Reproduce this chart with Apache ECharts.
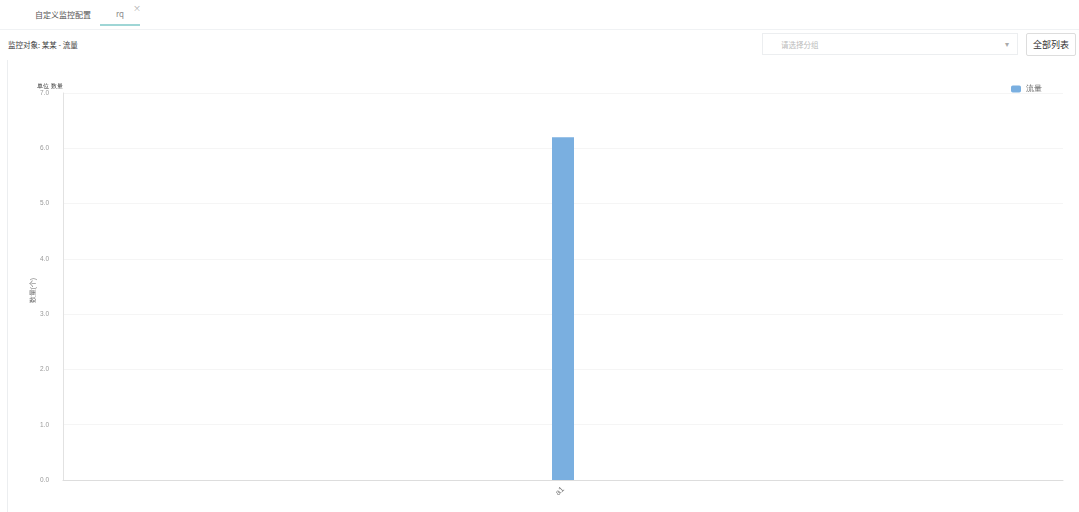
<!DOCTYPE html>
<html><head><meta charset="utf-8">
<script src="https://cdn.jsdelivr.net/npm/echarts@6/dist/echarts.min.js"></script>
<style>
html,body{margin:0;padding:0;width:1079px;height:512px;overflow:hidden;background:#fff;font-family:"Noto Sans CJK SC","Noto Sans",sans-serif;}
#hdr{position:absolute;left:0;top:0;width:1079px;height:29px;border-bottom:1px solid #f0f2f4;}
.tab1{position:absolute;left:35px;top:9px;font-size:8px;color:#555;}
.tab2{position:absolute;left:100px;top:8px;width:40px;height:18px;font-size:8px;color:#888;text-align:center;border-bottom:2px solid #9fd6d6;box-sizing:border-box;}
.x{position:absolute;left:133px;top:2px;font-size:8px;color:#aaa;}
.sub{position:absolute;left:8px;top:39px;font-size:7.5px;color:#444;}
.sel{position:absolute;left:762px;top:33px;width:256px;height:22px;border:1px solid #eceef0;box-sizing:border-box;font-size:7.5px;color:#bbb;padding:5px 0 0 18px;}
.sel span{position:absolute;right:8px;top:4px;color:#aaa;font-size:8px;}
.btn{position:absolute;left:1026px;top:33px;width:50px;height:23px;border:1px solid #ddd;box-sizing:border-box;font-size:9px;color:#333;text-align:center;line-height:21px;border-radius:2px;}
#wrap{position:absolute;left:7px;top:60px;width:1072px;height:452px;border-left:1px solid #eceef0;}
#chart{width:1072px;height:452px;}
</style></head>
<body>
<div id="hdr"><div class="tab1">自定义监控配置</div><div class="tab2">rq</div><div class="x">×</div></div>
<div class="sub">监控对象: 某某 - 流量</div>
<div class="sel">请选择分组<span>▾</span></div>
<div class="btn">全部列表</div>
<div id="wrap"><div id="chart"></div></div>
<script>
var categories = ["a1"];
var seriesName = "流量";
var values = [6.2];
var yMin = 0, yMax = 7, yInterval = 1;

var chart = echarts.init(document.getElementById('chart'), null, {renderer:'canvas'});
chart.setOption({
  animation:false,
  legend:{data:[seriesName],right:33,top:20,itemWidth:10,itemHeight:7,itemGap:4,textStyle:{fontSize:8,color:'#666'}},
  grid:{left:55,right:17,top:33,bottom:32},
  xAxis:{type:'category',data:categories,
    axisLine:{lineStyle:{color:'#ddd'}},axisTick:{show:false},
    axisLabel:{rotate:45,fontSize:8,color:'#777',margin:8}},
  yAxis:{type:'value',min:yMin,max:yMax,interval:yInterval,
    name:'单位 数量',nameLocation:'end',nameGap:4,nameTextStyle:{fontSize:6,color:'#333',align:'right'},
    axisLine:{show:true,lineStyle:{color:'#e2e2e2'}},axisTick:{show:false},
    axisLabel:{fontSize:6.5,color:'#999',formatter:function(v){return v.toFixed(1);},margin:14},
    splitLine:{lineStyle:{color:'#f5f5f5'}}},
  series:[{name:seriesName,type:'bar',data:values,barWidth:22,itemStyle:{color:'#7aafe0'}}],
  graphic:[{type:'text',left:22,top:218,rotation:Math.PI/2,style:{text:'数量(个)',fontSize:6.5,fill:'#666'}}]
});
</script>
</body></html>
